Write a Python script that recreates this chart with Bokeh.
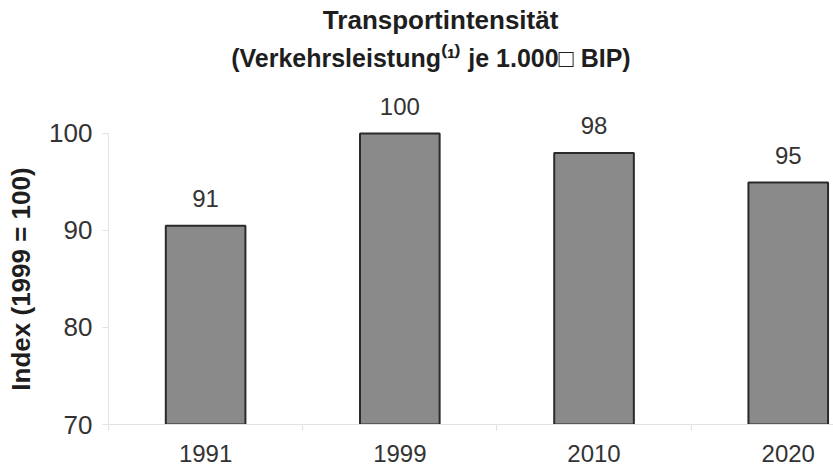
import math
from bokeh.plotting import figure
from bokeh.layouts import row
from bokeh.models import ColumnDataSource, Range1d, FixedTicker
from bokeh.embed import file_html
from bokeh.resources import INLINE
from bokeh.core.properties import value

years = ["1991", "1999", "2010", "2020"]
index_values = [90.5, 100.0, 98.0, 94.95]
value_labels = ["91", "100", "98", "95"]
y_ticks = [70, 80, 90, 100]
title_line1 = "Transportintensität"
title_line2 = "(Verkehrsleistung⁽¹⁾ je 1.000□ BIP)"
y_title = "Index (1999 = 100)"

FONT = "Liberation Sans"
Y0, Y1, YTOP = 70, 100, 113.71
pos = [i + 0.5 for i in range(len(years))]
src = ColumnDataSource(dict(x=pos, top=index_values, lab=value_labels))

# narrow left panel that carries the vertical axis title (centred on the 70-100 span)
LW = 46
pl = figure(width=LW, height=475, output_backend="svg", toolbar_location=None,
            x_range=Range1d(0, LW), y_range=Range1d(Y0, YTOP),
            min_border_left=0, min_border_right=0, min_border_top=0, min_border_bottom=51)
pl.axis.visible = False
pl.grid.visible = False
pl.outline_line_color = None
pl.text(x=[20], y=[(Y0 + Y1) / 2], text=[y_title], angle=math.pi / 2,
        text_align="center", text_baseline="middle",
        text_font=value(FONT), text_font_style="bold", text_font_size="26px", text_color="#1e1e1e")

p = figure(width=833 - LW, height=475, output_backend="svg", toolbar_location=None,
           x_range=Range1d(0, 3.733), y_range=Range1d(Y0, YTOP),
           min_border_left=0, min_border_right=0, min_border_top=0, min_border_bottom=51)
p.outline_line_color = None
p.grid.visible = False
p.background_fill_color = "white"
p.border_fill_color = "white"

p.vbar(x="x", top="top", bottom=Y0, width=0.41, source=src,
       fill_color="#8a8a8a", line_color="#2a2a2a", line_width=2)
p.text(x="x", y="top", text="lab", source=src, y_offset=-27,
       text_align="center", text_baseline="middle",
       text_font=value(FONT), text_font_size="24px", text_color="#333333")

# titles (drawn inside the extended frame area above the axis bounds)
p.text(x=[1.71], y=[111.7], text=[title_line1], text_align="center", text_baseline="middle",
       text_font=value(FONT), text_font_style="bold", text_font_size="26px", text_color="#1e1e1e")
p.text(x=[1.66], y=[107.8], text=[title_line2], text_align="center", text_baseline="middle",
       text_font=value(FONT), text_font_style="bold", text_font_size="25px", text_color="#1e1e1e")

# x axis
xa = p.xaxis[0]
xa.ticker = FixedTicker(ticks=pos, minor_ticks=list(range(len(years) + 1)))
xa.major_label_overrides = {p_: y for p_, y in zip(pos, years)}
xa.major_tick_line_color = None
xa.minor_tick_in = 0
xa.minor_tick_out = 6
xa.minor_tick_line_color = "#e2e2e2"
xa.axis_line_color = "#e2e2e2"
xa.major_label_standoff = 14
xa.major_label_text_font = FONT
xa.major_label_text_font_size = "24px"
xa.major_label_text_color = "#333333"

ya = p.yaxis[0]
ya.ticker = FixedTicker(ticks=y_ticks)
ya.bounds = (Y0, Y1)
ya.minor_tick_line_color = None
ya.major_tick_in = 0
ya.major_tick_out = 6
ya.major_tick_line_color = "#e2e2e2"
ya.axis_line_color = "#e2e2e2"
ya.major_label_standoff = 10
ya.major_label_text_font = FONT
ya.major_label_text_font_size = "26px"
ya.major_label_text_color = "#333333"

layout = row(pl, p, spacing=0)
open("out.html", "w").write(file_html(layout, INLINE))
